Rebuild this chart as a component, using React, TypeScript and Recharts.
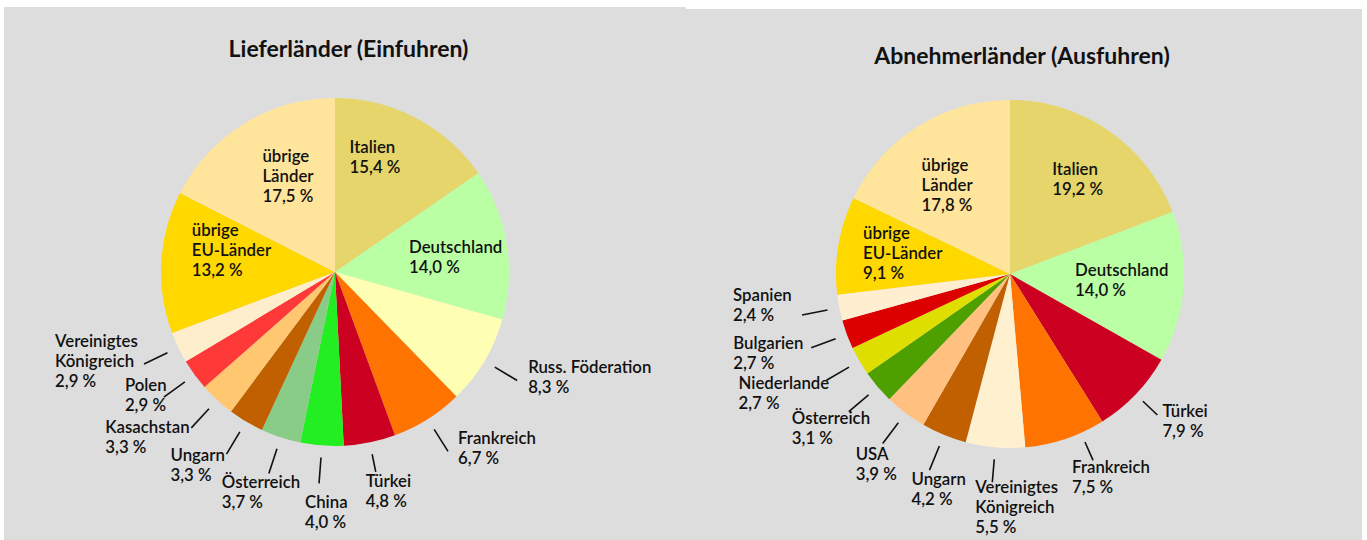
import React from 'react';
import { PieChart, Pie, Cell } from 'recharts';

// Lieferländer (Einfuhren), Anteil in %
const IMPORT_NAMES = [
  'Italien', 'Deutschland', 'Russ. Föderation', 'Frankreich', 'Türkei', 'China',
  'Österreich', 'Ungarn', 'Kasachstan', 'Polen', 'Vereinigtes\nKönigreich',
  'übrige\nEU-Länder', 'übrige\nLänder',
];
const IMPORT_SHARES = [15.4, 14.0, 8.3, 6.7, 4.8, 4.0, 3.7, 3.3, 3.3, 2.9, 2.9, 13.2, 17.5];

// Abnehmerländer (Ausfuhren), Anteil in %
const EXPORT_NAMES = [
  'Italien', 'Deutschland', 'Türkei', 'Frankreich', 'Vereinigtes\nKönigreich', 'Ungarn',
  'USA', 'Österreich', 'Niederlande', 'Bulgarien', 'Spanien',
  'übrige\nEU-Länder', 'übrige\nLänder',
];
const EXPORT_SHARES = [19.2, 14.0, 7.9, 7.5, 5.5, 4.2, 3.9, 3.1, 2.7, 2.7, 2.4, 9.1, 17.8];

const IMPORT_COLORS = [
  '#e5d56a', '#baffa3', '#ffffb3', '#ff7300', '#cc0020', '#22ee22',
  '#88cc88', '#c06000', '#ffc870', '#ff3838', '#ffeecc', '#ffd800', '#ffe49b',
];
const EXPORT_COLORS = [
  '#e5d56a', '#baffa3', '#cc0020', '#ff7300', '#fff0d0', '#c06000',
  '#ffc080', '#4ea000', '#dede00', '#dd0000', '#ffeed0', '#ffd800', '#ffe49b',
];

// label placement: inside labels sit near 0.6 r, outside ones hang off a short leader line
type LabelSpot = { inside?: boolean; dx: number; dy: number; rot?: number; from?: number; to?: number };

const IMPORT_SPOTS: LabelSpot[] = [
  { inside: true, dx: -34, dy: -33 },
  { inside: true, dx: -29, dy: -8 },
  { dx: 11, dy: -13 },
  { dx: 10, dy: -13 },
  { dx: -10, dy: 9, from: 12, to: 30 },
  { dx: -14, dy: 19 },
  { dx: -47, dy: 9 },
  { dx: -56, dy: 1 },
  { dx: -86, dy: -1 },
  { dx: -39, dy: -12 },
  { dx: -89, dy: -23 },
  { inside: true, dx: -39, dy: -36 },
  { inside: true, dx: -18, dy: -27 },
];

const EXPORT_SPOTS: LabelSpot[] = [
  { inside: true, dx: -17, dy: -19 },
  { inside: true, dx: -39, dy: -12 },
  { dx: 5, dy: -4, from: 10, to: 30 },
  { dx: -21, dy: 7, rot: -5.5, from: 10, to: 30 },
  { dx: -17, dy: 5, to: 35 },
  { dx: -18, dy: 9 },
  { dx: -27, dy: 10 },
  { dx: -57, dy: 6 },
  { dx: -88, dy: 3 },
  { dx: -78, dy: -5 },
  { dx: -69, dy: -20 },
  { inside: true, dx: -44, dy: -24 },
  { inside: true, dx: -33, dy: -21 },
];

const RADIAN = Math.PI / 180;
const FONT = 'Lato, "Open Sans", sans-serif';
const LINE_H = 20;

const fmt = (v: number) => `${v.toFixed(1).replace('.', ',')} %`;

const makeLabel = (names: string[], spots: LabelSpot[]) => (props: any) => {
  const { cx, cy, midAngle, outerRadius, value } = props;
  const i = props.payload?.idx ?? props.index;
  const spot = spots[i];
  const lines = [...names[i].split('\n'), fmt(value)];
  const ang = (midAngle - (spot.rot || 0)) * RADIAN;
  const px = (r: number) => cx + r * Math.cos(-ang);
  const py = (r: number) => cy + r * Math.sin(-ang);

  let ax: number;
  let ay: number;
  let leader: React.ReactNode = null;
  if (spot.inside) {
    ax = px(outerRadius * 0.6);
    ay = py(outerRadius * 0.6);
  } else {
    const r1 = outerRadius + (spot.from ?? 12);
    const r2 = outerRadius + (spot.to ?? 38);
    ax = px(r2);
    ay = py(r2);
    leader = <line x1={px(r1)} y1={py(r1)} x2={ax} y2={ay} stroke="#111" strokeWidth={1.6} />;
  }
  const tx = ax + spot.dx;
  const ty = ay + spot.dy + 6;

  return (
    <g key={`lbl-${i}`}>
      {leader}
      <text x={tx} y={ty} fill="#111" fontFamily={FONT} fontSize={16.8} fontWeight={600} textAnchor="start">
        {lines.map((t, k) => (
          <tspan key={k} x={tx} y={ty + k * LINE_H}>{t}</tspan>
        ))}
      </text>
    </g>
  );
};

interface CountryPieProps {
  names: string[];
  shares: number[];
  colors: string[];
  spots: LabelSpot[];
  width: number;
  height: number;
  cx: number;
  cy: number;
}

const CountryPie: React.FC<CountryPieProps> = ({ names, shares, colors, spots, width, height, cx, cy }) => {
  const data = names.map((n, idx) => ({ name: n, value: shares[idx], idx }));
  return (
    <PieChart width={width} height={height} margin={{ top: 0, right: 0, bottom: 0, left: 0 }}>
      <Pie
        data={data}
        dataKey="value"
        nameKey="name"
        cx={cx}
        cy={cy}
        outerRadius={174}
        startAngle={90}
        endAngle={-270}
        stroke="none"
        labelLine={false}
        label={makeLabel(names, spots)}
        isAnimationActive={false}
      >
        {data.map((entry, index) => (
          <Cell key={`cell-${index}`} fill={colors[index]} />
        ))}
      </Pie>
    </PieChart>
  );
};

const titleStyle: React.CSSProperties = {
  position: 'absolute',
  fontFamily: FONT,
  fontWeight: 700,
  fontSize: 23,
  lineHeight: '24px',
  color: '#111',
  textAlign: 'center',
};

export default function App() {
  return (
    <div style={{ position: 'absolute', left: 0, top: 0, width: 1367, height: 540, background: '#fff', overflow: 'hidden' }}>
      <div style={{ position: 'absolute', left: 4, top: 7, width: 682, height: 533, background: '#dddddd' }} />
      <div style={{ position: 'absolute', left: 686, top: 9, width: 676, height: 531, background: '#dddddd' }} />

      <div style={{ ...titleStyle, left: 0, top: 36, width: 697 }}>Lieferländer (Einfuhren)</div>
      <div style={{ ...titleStyle, left: 686, top: 43, width: 672 }}>Abnehmerländer (Ausfuhren)</div>

      <div style={{ position: 'absolute', left: 4, top: 7 }}>
        <CountryPie
          names={IMPORT_NAMES}
          shares={IMPORT_SHARES}
          colors={IMPORT_COLORS}
          spots={IMPORT_SPOTS}
          width={682}
          height={533}
          cx={331}
          cy={265}
        />
      </div>
      <div style={{ position: 'absolute', left: 686, top: 7 }}>
        <CountryPie
          names={EXPORT_NAMES}
          shares={EXPORT_SHARES}
          colors={EXPORT_COLORS}
          spots={EXPORT_SPOTS}
          width={681}
          height={533}
          cx={324}
          cy={267}
        />
      </div>
    </div>
  );
}
